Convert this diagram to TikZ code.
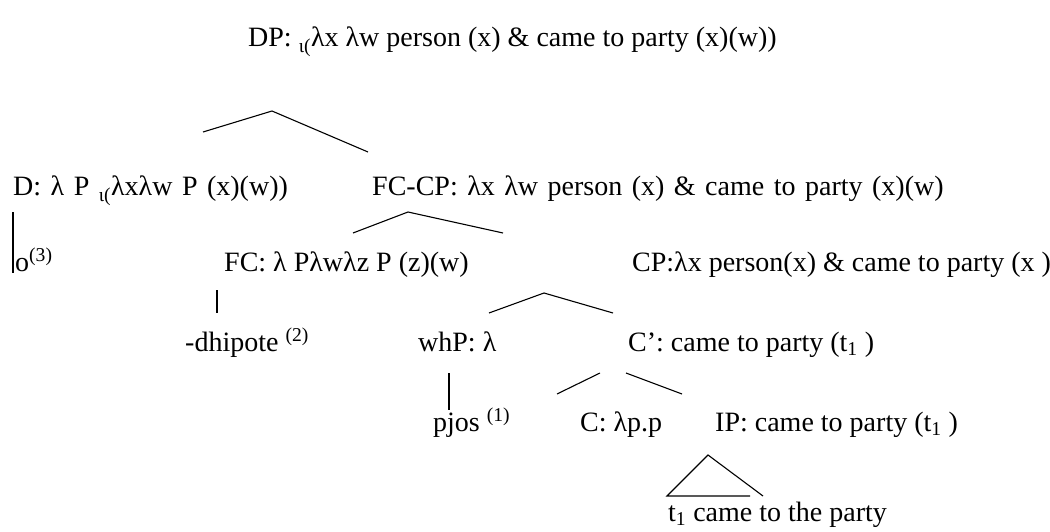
\documentclass[tikz,border=0pt]{standalone}
\usepackage{fontspec}
\setmainfont{Liberation Serif}

\newcommand{\lsub}[1]{\textsubscript{#1}}
\newcommand{\lsup}[1]{\textsuperscript{#1}}

\begin{document}
\begin{tikzpicture}[x=1pt,y=-1pt,
    lbl/.style={anchor=base west,inner sep=0pt,font=\fontsize{28}{33}\selectfont},
    wide/.style={execute at begin node={\spaceskip=9.5pt plus 2pt\relax}},
    br/.style={line width=1.1pt}]
    \useasboundingbox (0,0) rectangle (1050,532);
    % labels
    \node[lbl] (dp)  at (248,47)  {DP: \lsub{ι(}λx λw person (x) \& came to party (x)(w))};
    \node[lbl,wide] (d) at (13,196) {D: λ P \lsub{ι(}λxλw P (x)(w))};
    \node[lbl,wide] (fccp) at (372,196) {FC-CP: λx λw person (x) \& came to party (x)(w)};
    \node[lbl] (o)   at (15,271)  {o\lsup{(3)}};
    \node[lbl] (fc)  at (224,271) {FC: λ Pλwλz P (z)(w)};
    \node[lbl] (cp)  at (632,271) {CP:λx person(x) \& came to party (x )};
    \node[lbl] (dhi) at (185,351) {-dhipote \lsup{(2)}};
    \node[lbl] (whp) at (418,351) {whP: λ};
    \node[lbl] (cbar) at (628,351) {C’: came to party (t\lsub{1} )};
    \node[lbl] (pjos) at (433,431) {pjos \lsup{(1)}};
    \node[lbl] (c)   at (580,431) {C: λp.p};
    \node[lbl] (ip)  at (715,431) {IP: came to party (t\lsub{1} )};
    \node[lbl] (tri) at (668,521) {t\lsub{1} came to the party};
    % branch points
    \coordinate (dp-l) at (203,132);
    \coordinate (dp-t) at (272,111);
    \coordinate (dp-r) at (368,152);
    \coordinate (fccp-l) at (353,233);
    \coordinate (fccp-t) at (408,212);
    \coordinate (fccp-r) at (503,233);
    \coordinate (cp-l) at (489,313);
    \coordinate (cp-t) at (544,293);
    \coordinate (cp-r) at (613,313);
    \coordinate (cbar-l) at (557,394);
    \coordinate (cbar-a) at (600,373);
    \coordinate (cbar-b) at (626,373);
    \coordinate (cbar-r) at (682,394);
    \coordinate (ip-t) at (708,455);
    \coordinate (ip-l) at (667,496);
    \coordinate (ip-m) at (750,496);
    \coordinate (ip-r) at (763,496);
    \coordinate (d-a) at (13,212);
    \coordinate (d-b) at (13,273);
    \coordinate (fc-a) at (217,290);
    \coordinate (fc-b) at (217,313);
    \coordinate (whp-a) at (449,373);
    \coordinate (whp-b) at (449,410);
    % branches
    \draw[br] (dp-l) -- (dp-t) -- (dp-r);
    \draw[br] (fccp-l) -- (fccp-t) -- (fccp-r);
    \draw[br] (cp-l) -- (cp-t) -- (cp-r);
    \draw[br] (cbar-l) -- (cbar-a);
    \draw[br] (cbar-b) -- (cbar-r);
    \draw[br] (ip-m) -- (ip-l) -- (ip-t) -- (ip-r);
    \draw[br] (d-a) -- (d-b);
    \draw[br] (fc-a) -- (fc-b);
    \draw[br] (whp-a) -- (whp-b);
\end{tikzpicture}
\end{document}
